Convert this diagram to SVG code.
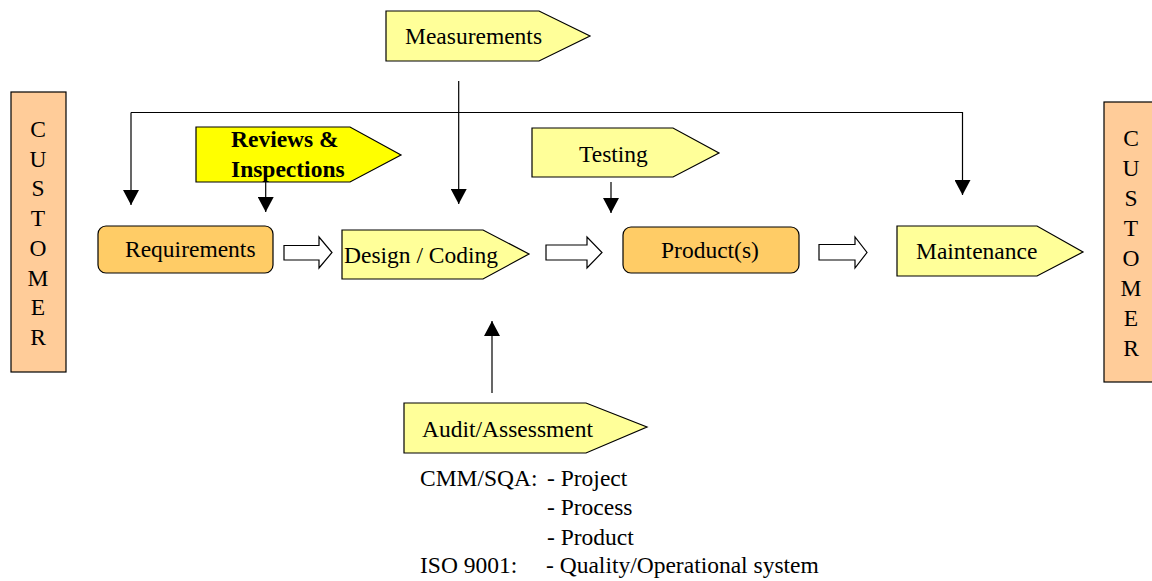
<svg xmlns="http://www.w3.org/2000/svg" width="1152" height="581" viewBox="0 0 1152 581">
<defs>
<style>
text{font-family:"Liberation Serif","Times New Roman",serif;font-size:23.5px;fill:#000}
.bold{font-weight:bold}
.cust{fill:#FFCC99;stroke:#000;stroke-width:1.2}
.box{fill:#FFCC66;stroke:#000;stroke-width:1.2}
.pent{fill:#FFFF99;stroke:#000;stroke-width:1.2}
.pentB{fill:#FFFF00;stroke:#000;stroke-width:1.2}
.hollow{fill:#fff;stroke:#000;stroke-width:1.2}
.line{fill:none;stroke:#000;stroke-width:1.2}
.mid{text-anchor:middle}
</style>
<marker id="ah" markerUnits="userSpaceOnUse" markerWidth="16" markerHeight="16" refX="15" refY="8" orient="auto">
<path d="M0,0 L15,8 L0,16 z" fill="#000"/>
</marker>
</defs>
<rect width="1152" height="581" fill="#fff"/>

<g id="customer-left">
<rect class="cust" x="11" y="92" width="55" height="280"/>
<text class="mid" x="38" y="137">C</text>
<text class="mid" x="38" y="166.7">U</text>
<text class="mid" x="38" y="196.4">S</text>
<text class="mid" x="38" y="226.1">T</text>
<text class="mid" x="38" y="255.8">O</text>
<text class="mid" x="38" y="285.5">M</text>
<text class="mid" x="38" y="315.2">E</text>
<text class="mid" x="38" y="345">R</text>
</g>

<g id="customer-right">
<rect class="cust" x="1104" y="102" width="56" height="280"/>
<text class="mid" x="1131" y="145.7">C</text>
<text class="mid" x="1131" y="175.7">U</text>
<text class="mid" x="1131" y="205.7">S</text>
<text class="mid" x="1131" y="235.7">T</text>
<text class="mid" x="1131" y="265.7">O</text>
<text class="mid" x="1131" y="295.7">M</text>
<text class="mid" x="1131" y="325.7">E</text>
<text class="mid" x="1131" y="355.7">R</text>
</g>

<g id="measurements">
<polygon class="pent" points="386,11 539,11 590,36 539,61 386,61"/>
<text x="405" y="44">Measurements</text>
</g>

<g id="reviews">
<polygon class="pentB" points="196,127 350,127 401,155 350,182 196,182"/>
<text class="bold" x="231" y="147">Reviews &amp;</text>
<text class="bold" x="231" y="177">Inspections</text>
</g>

<g id="testing">
<polygon class="pent" points="532,128 673,128 719,153 673,177 532,177"/>
<text x="579" y="162">Testing</text>
</g>

<g id="requirements">
<rect class="box" x="98" y="226" width="175" height="47" rx="8"/>
<text x="125" y="257">Requirements</text>
</g>

<g id="design-coding">
<polygon class="pent" points="342,230 483,230 529,254 483,279 342,279"/>
<text x="344" y="263">Design / Coding</text>
</g>

<g id="products">
<rect class="box" x="623" y="227" width="176" height="46" rx="8"/>
<text x="661" y="258">Product(s)</text>
</g>

<g id="maintenance">
<polygon class="pent" points="897,226 1037,226 1083,252 1037,276 897,276"/>
<text x="916" y="259">Maintenance</text>
</g>

<g id="audit">
<polygon class="pent" points="404,403 586,403 647,427 586,453 404,453"/>
<text x="422" y="437">Audit/Assessment</text>
</g>

<g id="audit-notes">
<text x="420" y="486">CMM/SQA:</text>
<text x="547" y="486">- Project</text>
<text x="547" y="515">- Process</text>
<text x="547" y="545">- Product</text>
<text x="420" y="573">ISO 9001:</text>
<text x="546" y="573">- Quality/Operational system</text>
</g>

<g id="connectors">
<polyline class="line" points="131,112.5 962.5,112.5 962.5,195" marker-end="url(#ah)"/>
<line class="line" x1="131" y1="112.5" x2="131" y2="205" marker-end="url(#ah)"/>
<line class="line" x1="458.7" y1="81" x2="458.7" y2="204" marker-end="url(#ah)"/>
<line class="line" x1="265.7" y1="180" x2="265.7" y2="212" marker-end="url(#ah)"/>
<line class="line" x1="611" y1="182" x2="611" y2="213" marker-end="url(#ah)"/>
<line class="line" x1="492" y1="393" x2="492" y2="321" marker-end="url(#ah)"/>
<path class="hollow" d="M284,245.5 L319,245.5 L319,237 L332,252.5 L319,268 L319,260 L284,260 z"/>
<path class="hollow" d="M546,245 L587,245 L587,237 L602,252.5 L587,268 L587,260 L546,260 z"/>
<path class="hollow" d="M819,244.5 L855,244.5 L855,237 L867,252.5 L855,268 L855,260 L819,260 z"/>
</g>
</svg>
